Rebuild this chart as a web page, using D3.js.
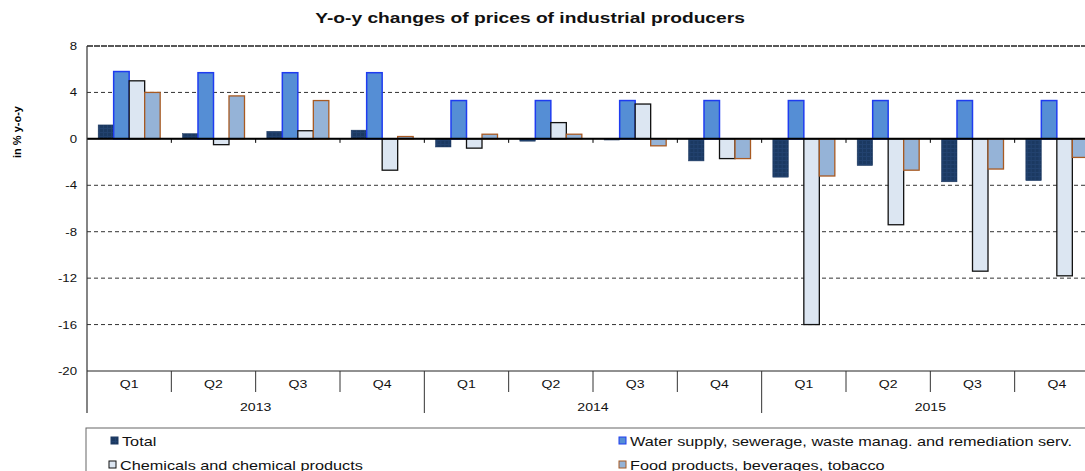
<!DOCTYPE html>
<html>
<head>
<meta charset="utf-8">
<script src="https://cdn.jsdelivr.net/npm/d3@7"></script>
<style>
  body { margin: 0; background: #fff; }
  svg { display: block; font-family: Arial, "Liberation Sans", sans-serif; }
</style>
</head>
<body>
<svg width="1085" height="471"></svg>
<script>
const years = ['2013', '2014', '2015'];
const quarters = ['Q1', 'Q2', 'Q3', 'Q4'];
const seriesNames = [
  'Total',
  'Water supply, sewerage, waste manag. and remediation serv.',
  'Chemicals and chemical products',
  'Food products, beverages, tobacco'
];
const total = [1.2, 0.45, 0.65, 0.75, -0.7, -0.2, -0.1, -1.9, -3.3, -2.3, -3.7, -3.6];
const water = [5.8, 5.7, 5.7, 5.7, 3.3, 3.3, 3.3, 3.3, 3.3, 3.3, 3.3, 3.3];
const chemicals = [5.0, -0.5, 0.7, -2.7, -0.8, 1.4, 3.0, -1.7, -16.0, -7.4, -11.4, -11.8];
const food = [4.0, 3.7, 3.3, 0.2, 0.4, 0.4, -0.6, -1.7, -3.2, -2.7, -2.6, -1.6];
const yTicks = [8, 4, 0, -4, -8, -12, -16, -20];

const seriesValues = [total, water, chemicals, food];
const styles = [
  { fill: 'url(#totalPat)', stroke: '#1b365e', sw: 0.5 },
  { fill: '#558ed5', stroke: '#1f3cf0', sw: 1.5 },
  { fill: '#dce6f2', stroke: '#111', sw: 1.3 },
  { fill: '#95b3d7', stroke: '#a85a22', sw: 1.3 }
];

const keys = [];
years.forEach(y => quarters.forEach(q => keys.push(y + ' ' + q)));

// text in the source is stretched sideways
const SX = 1.28;
const place = (x, y, s = SX) => `translate(${x},${y}) scale(${s},1)`;

const svg = d3.select('svg');
const defs = svg.append('defs');
const pat = defs.append('pattern').attr('id', 'totalPat')
  .attr('width', 4).attr('height', 4).attr('patternUnits', 'userSpaceOnUse');
pat.append('rect').attr('width', 4).attr('height', 4).attr('fill', '#1b3961');
pat.append('path').attr('d', 'M0,0.5H4M0.5,0V4').attr('stroke', '#22426f').attr('stroke-width', 1);

const plotLeft = 87, plotTop = 46, plotRight = 1099, plotBottom = 371;
const x0 = d3.scaleBand().domain(keys).range([plotLeft, plotRight]);
const x1 = d3.scaleBand().domain(d3.range(4)).range([0, x0.bandwidth()]).paddingOuter(0.72);
const y = d3.scaleLinear().domain([-20, 8]).range([plotBottom, plotTop]);

// title
svg.append('text').attr('transform', place(530, 23)).attr('text-anchor', 'middle')
  .attr('font-weight', 'bold').attr('font-size', 15).attr('fill', '#111')
  .text('Y-o-y changes of prices of industrial producers');

// y label
svg.append('text').attr('transform', 'translate(21,132) rotate(-90)')
  .attr('text-anchor', 'middle').attr('font-weight', 'bold').attr('font-size', 11)
  .text('in % y-o-y');

// grid lines
svg.append('g').selectAll('line').data(yTicks).join('line')
  .attr('x1', plotLeft).attr('x2', plotRight)
  .attr('y1', d => y(d)).attr('y2', d => y(d))
  .attr('stroke', d => d === 8 ? '#222' : d === -20 ? '#222' : '#333')
  .attr('stroke-width', d => d === 8 ? 1.5 : 1)
  .attr('stroke-dasharray', d => (d === -20 || d === 0) ? null : (d === 8 ? '6,1' : '4,3'));

// y tick labels
svg.append('g').selectAll('text').data(yTicks).join('text')
  .attr('transform', d => place(77, y(d) + 4, 1.2)).attr('text-anchor', 'end')
  .attr('font-size', 11).attr('fill', '#111').text(d => d);

// bars
const groups = svg.append('g').selectAll('g').data(keys).join('g')
  .attr('transform', d => `translate(${x0(d)},0)`);
groups.selectAll('rect').data((d, i) => seriesValues.map((s, j) => ({ j, v: s[i] })))
  .join('rect')
  .attr('x', d => x1(d.j))
  .attr('width', x1.bandwidth())
  .attr('y', d => y(Math.max(0, d.v)))
  .attr('height', d => Math.abs(y(d.v) - y(0)))
  .attr('fill', d => styles[d.j].fill)
  .attr('stroke', d => styles[d.j].stroke)
  .attr('stroke-width', d => styles[d.j].sw);

// zero line and its ticks
svg.append('line').attr('x1', plotLeft).attr('x2', plotRight)
  .attr('y1', y(0)).attr('y2', y(0)).attr('stroke', '#000').attr('stroke-width', 2);
svg.append('g').selectAll('line').data(keys.slice(1)).join('line')
  .attr('x1', d => x0(d)).attr('x2', d => x0(d))
  .attr('y1', y(0)).attr('y2', y(0) + 4).attr('stroke', '#000').attr('stroke-width', 1);

// y axis line
svg.append('line').attr('x1', plotLeft).attr('x2', plotLeft).attr('y1', plotTop).attr('y2', 413)
  .attr('stroke', '#333').attr('stroke-width', 1.2);

// quarter separators and labels
svg.append('g').selectAll('line').data(keys.slice(1)).join('line')
  .attr('x1', d => x0(d)).attr('x2', d => x0(d))
  .attr('y1', plotBottom).attr('y2', d => d.endsWith('Q1') ? 413 : 392)
  .attr('stroke', '#333').attr('stroke-width', 1);
svg.append('g').selectAll('text').data(keys).join('text')
  .attr('transform', d => place(x0(d) + x0.bandwidth() / 2, 388))
  .attr('text-anchor', 'middle').attr('font-size', 11).attr('fill', '#111')
  .text(d => d.split(' ')[1]);
svg.append('g').selectAll('text').data(years).join('text')
  .attr('transform', d => place(x0(d + ' Q1') + x0.bandwidth() * 2, 411))
  .attr('text-anchor', 'middle').attr('font-size', 11).attr('fill', '#111')
  .text(d => d);

// legend
svg.append('rect').attr('x', 86).attr('y', 428).attr('width', 1020).attr('height', 60)
  .attr('fill', 'none').attr('stroke', '#666').attr('stroke-width', 1);
const legPos = [[111, 441], [619, 441], [109, 465], [619, 465]];
const leg = svg.append('g').selectAll('g').data(seriesNames).join('g')
  .attr('transform', (d, i) => `translate(${legPos[i][0]},${legPos[i][1]})`);
leg.append('rect').attr('x', 0).attr('y', -4).attr('width', 7).attr('height', 7)
  .attr('fill', (d, i) => styles[i].fill)
  .attr('stroke', (d, i) => styles[i].stroke).attr('stroke-width', 1);
leg.append('text').attr('transform', place(11, 4.5, 1.25)).attr('font-size', 13).attr('fill', '#111')
  .text(d => d);
</script>
</body>
</html>
